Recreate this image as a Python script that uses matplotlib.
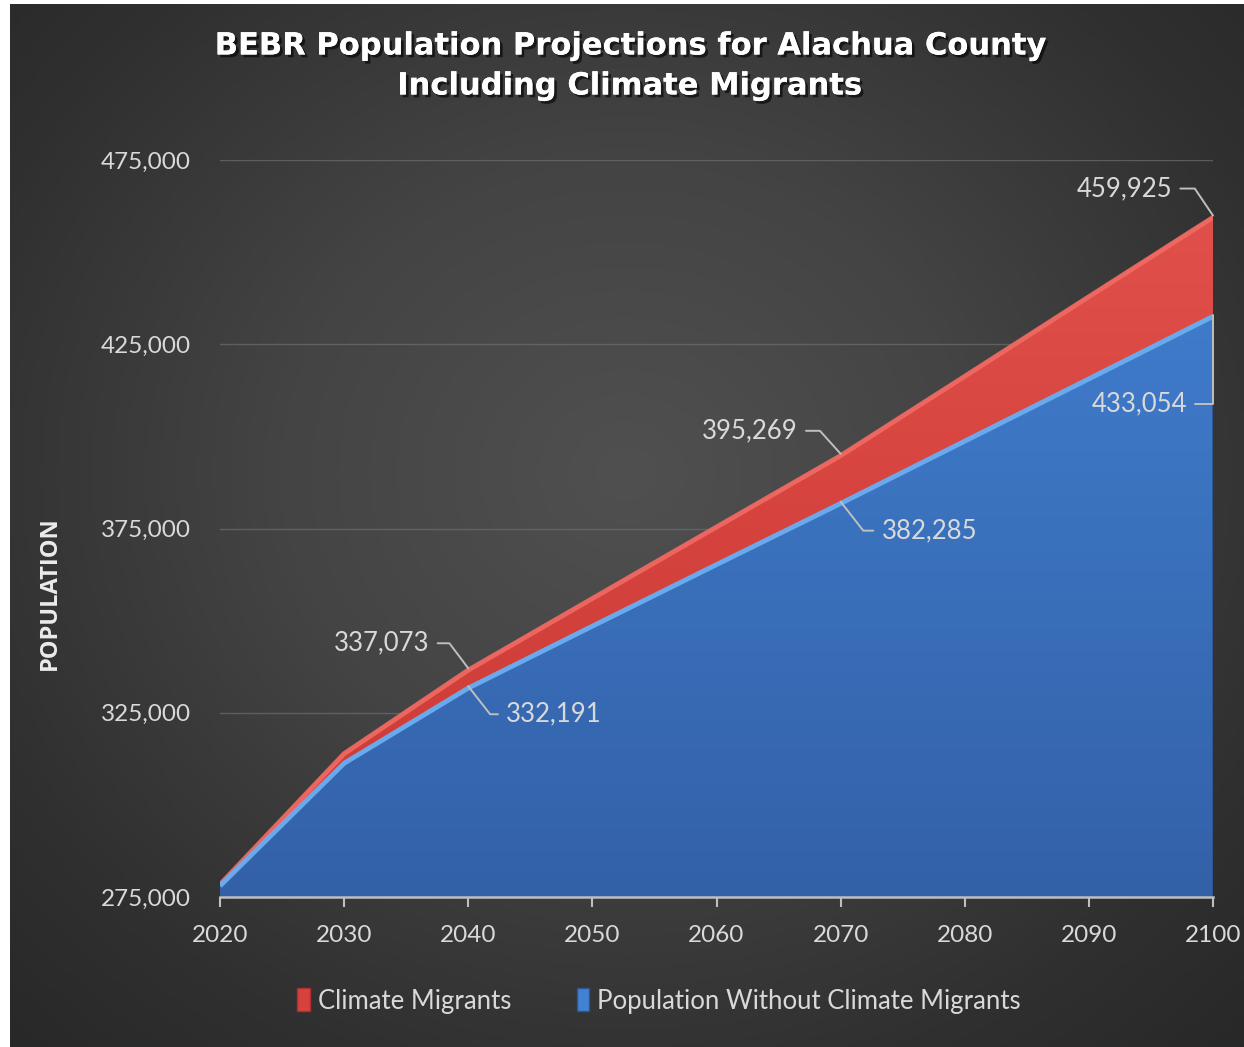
import numpy as np
import matplotlib.pyplot as plt
from matplotlib import patheffects
from matplotlib.patches import Patch, PathPatch
from matplotlib.colors import LinearSegmentedColormap

plt.rcParams['font.family'] = ['Lato', 'DejaVu Sans']

# BEBR medium projections, split into the base population and the
# additional climate migrants stacked on top
years = [2020, 2030, 2040, 2050, 2060, 2070, 2080, 2090, 2100]
base_pop = [278500, 311800, 332191, 349000, 365700, 382285, 399200, 416100, 433054]
migrants = [400, 2600, 4882, 7500, 10200, 12984, 17600, 22300, 26871]

series_names = ["Climate Migrants", "Population Without Climate Migrants"]
y_ticks = [275000, 325000, 375000, 425000, 475000]

# callouts: (series, year, offset px, text alignment, leader angle at the point)
CALLOUTS = [
    ('total', 2040, (-39, 25), 'right', -53),
    ('base', 2040, (38, -28), 'left', -52),
    ('total', 2070, (-43, 23), 'right', -48),
    ('base', 2070, (41, -29), 'left', -52),
    ('total', 2100, (-41, 27), 'right', -56),
    ('base', 2100, (-26, -89), 'right', 90),
]

W, H = 1244, 1047
TXT = '#d9d9d9'
LEADER = '#bfbfbf'
BLUE_LIGHT = '#4282d3'
BLUE_DARK = '#3361a8'
RED = '#d6433e'
RED_LIGHT = '#e2524c'

years_a = np.array(years)
base_a = np.array(base_pop, dtype=float)
total_a = base_a + np.array(migrants, dtype=float)

fig = plt.figure(figsize=(W / 100, H / 100), dpi=100, facecolor='white')

# radial dark background
bg = fig.add_axes([10 / W, 0, 1 - 10 / W, 1 - 4 / H])
gx, gy = np.meshgrid(np.linspace(0, 1, 400), np.linspace(0, 1, 340))
r = np.sqrt(((gx - 0.5) / 0.8) ** 2 + ((gy - 0.45) / 0.85) ** 2)
bg_cmap = LinearSegmentedColormap.from_list(
    'bg', [(0, '#505050'), (0.35, '#444444'), (0.7, '#303030'), (1, '#242424')])
bg.imshow(np.clip(r, 0, 1), cmap=bg_cmap, aspect='auto', extent=[0, 1, 0, 1],
          origin='upper', vmin=0, vmax=1)
bg.axis('off')

ax = fig.add_axes([220 / W, 150 / H, 993 / W, 737 / H])
ax.set_facecolor('none')
ymin, ymax = 275000, 475000


def gradient_fill(lower, upper, colors, z):
    poly = ax.fill_between(years_a, lower, upper, color='none', linewidth=0)
    path = poly.get_paths()[0]
    patch = PathPatch(path, transform=ax.transData, facecolor='none', edgecolor='none')
    ax.add_patch(patch)
    grad = np.linspace(1, 0, 256).reshape(-1, 1)
    cmap = LinearSegmentedColormap.from_list('g', colors)
    im = ax.imshow(grad, cmap=cmap, aspect='auto', extent=[2020, 2100, ymin, ymax],
                   origin='upper', zorder=z, vmin=0, vmax=1)
    im.set_clip_path(patch)


gradient_fill(np.full_like(base_a, ymin), base_a, [BLUE_DARK, BLUE_LIGHT], 2)
gradient_fill(base_a, total_a, ['#c93a36', RED, RED_LIGHT], 3)

# bevel highlights along the top edges
ax.plot(years_a, total_a - 500, color='#f06a63', lw=3.5, alpha=0.9, zorder=4,
        solid_capstyle='butt')
ax.plot(years_a, base_a - 500, color='#6aaef2', lw=3.5, alpha=0.95, zorder=4,
        solid_capstyle='butt')
ax.plot([2100, 2100], [ymin, base_a[-1]], color='#2c5592', lw=2, zorder=4)

ax.set_xlim(2020, 2100)
ax.set_ylim(ymin, ymax)
ax.set_yticks(y_ticks)
ax.set_yticklabels([f"{v:,}" for v in y_ticks])
ax.set_xticks(years)
ax.tick_params(axis='y', length=0, pad=21, labelsize=17.5, labelcolor=TXT)
ax.tick_params(axis='x', length=7, width=1.5, color=LEADER, direction='out',
               pad=13, labelsize=17.5, labelcolor=TXT)
ax.grid(axis='y', color='#6e6e6e', lw=1, alpha=0.7, zorder=0)
ax.set_axisbelow(True)
for side in ['top', 'right', 'left']:
    ax.spines[side].set_visible(False)
ax.spines['bottom'].set_color(LEADER)
ax.spines['bottom'].set_linewidth(1.8)
ax.spines['bottom'].set_zorder(5)

lookup = {'total': dict(zip(years, total_a)), 'base': dict(zip(years, base_a))}
for series, yr, off, ha, ang in CALLOUTS:
    val = lookup[series][yr]
    ax.annotate(f"{int(round(val)):,}", xy=(yr, val), xytext=off,
                textcoords='offset pixels', ha=ha, va='center', fontsize=18.5,
                color=TXT, zorder=6, annotation_clip=False,
                arrowprops=dict(arrowstyle='-', color=LEADER, lw=1.4,
                                shrinkA=4, shrinkB=0,
                                connectionstyle=f"angle,angleA=0,angleB={ang},rad=0"))

shadow = [patheffects.withSimplePatchShadow(offset=(2, -2), shadow_rgbFace='black', alpha=0.6),
          patheffects.Normal()]
for line, ypix in [("BEBR Population Projections for Alachua County", 46),
                   ("Including Climate Migrants", 86)]:
    fig.text(629 / W, 1 - ypix / H, line, ha='center', va='center', fontsize=22,
             fontweight='bold', color='white', family=['DejaVu Sans'],
             path_effects=shadow)

fig.text(50 / W, 1 - 593 / H, "POPULATION", rotation=90, ha='center', va='center',
         fontsize=17, fontweight='bold', color='#ececec',
         family=['Open Sans', 'DejaVu Sans'])

handles = [Patch(facecolor=RED, edgecolor='#b03030', label=series_names[0]),
           Patch(facecolor=BLUE_LIGHT, edgecolor='#2c5592', label=series_names[1])]
leg = fig.legend(handles=handles, loc='center', bbox_to_anchor=(659 / W, 46 / H),
                 ncol=2, frameon=False, fontsize=18.5, handlelength=0.5,
                 handleheight=1.0, handletextpad=0.3, columnspacing=2.55)
for t in leg.get_texts():
    t.set_color(TXT)

fig.savefig('out.png', dpi=100, facecolor=fig.get_facecolor())
